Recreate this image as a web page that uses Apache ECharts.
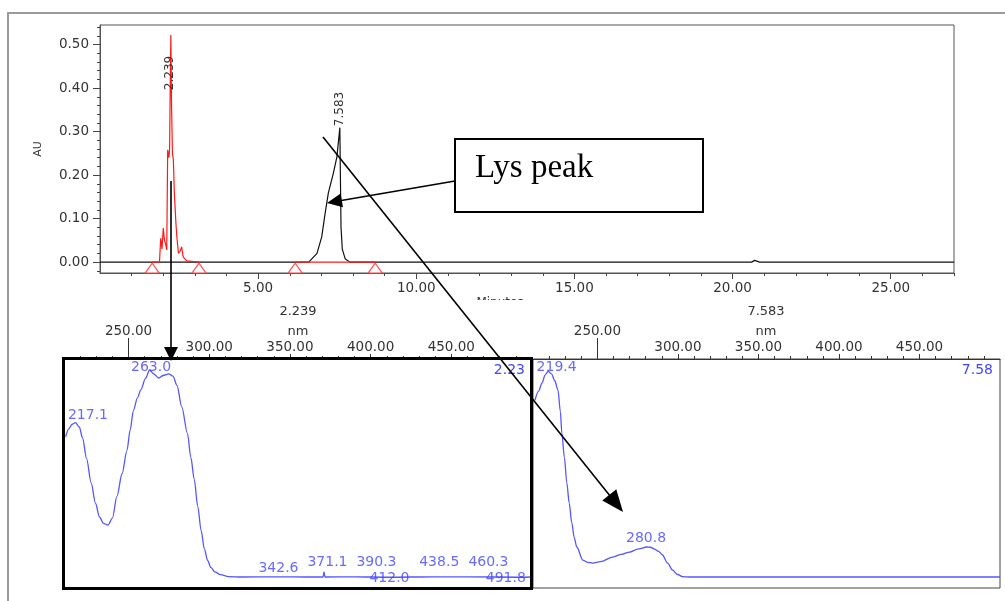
<!DOCTYPE html>
<html><head><meta charset="utf-8">
<script src="https://cdn.jsdelivr.net/npm/echarts@6/dist/echarts.min.js"></script>
<style>html,body{margin:0;padding:0;background:#fff}#c{width:1005px;height:601px}</style>
</head><body><div id="c"></div>
<script>
// ---------- data ----------
const chromXLabels = [5, 10, 15, 20, 25];
const chromYLabels = [0, 0.1, 0.2, 0.3, 0.4, 0.5];
const blackTrace = [[0,0],[6.6,0],[6.86,0.02],[7.01,0.058],[7.12,0.113],[7.22,0.159],[7.38,0.205],[7.49,0.242],[7.583,0.309],[7.6,0.2],[7.62,0.08],[7.66,0.03],[7.75,0.008],[7.9,0],[20.6,0],[20.7,0.004],[20.85,0],[27,0]];
const redTrace = [[1.65,0],[1.88,0],[1.92,0.055],[1.96,0.03],[2.0,0.078],[2.04,0.05],[2.08,0.04],[2.11,0.028],[2.14,0.258],[2.18,0.24],[2.2,0.26],[2.22,0.4],[2.239,0.522],[2.26,0.37],[2.29,0.25],[2.32,0.235],[2.35,0.16],[2.4,0.09],[2.43,0.058],[2.48,0.02],[2.53,0.025],[2.58,0.035],[2.63,0.012],[2.74,0.003],[2.8,0],[3.13,0],[null,null],[6.17,0],[8.70,0]];
const baselineMarks = [1.65, 3.13, 6.17, 8.70];
const peakTimes = ['2.239', '7.583'];
const nmMajor = [300, 350, 400, 450];
const nmRaised = [250];
const spectrum2239 = [[211,0.66],[213,0.695],[215,0.715],[217.1,0.722],[219.5,0.703],[221.5,0.655],[224,0.565],[226.8,0.46],[229.5,0.37],[232,0.31],[234.5,0.282],[237.3,0.275],[240,0.305],[242.8,0.40],[246,0.50],[249,0.60],[251,0.69],[253,0.775],[255.5,0.83],[257.6,0.865],[260.5,0.915],[263,0.952],[265.5,0.935],[268.7,0.917],[271.5,0.928],[275,0.935],[277.5,0.925],[280,0.885],[283,0.79],[286.5,0.675],[288.6,0.57],[290.7,0.475],[292.9,0.355],[295,0.25],[297,0.17],[299,0.12],[301,0.09],[303.5,0.07],[307,0.058],[312,0.05],[320,0.048],[342.6,0.049],[360,0.048],[370.5,0.048],[371.1,0.07],[371.7,0.048],[390.3,0.049],[412,0.047],[438.5,0.049],[460.3,0.049],[491.8,0.047],[500,0.048]];
const spectrum7583 = [[211.2,0.82],[213.5,0.86],[215.6,0.895],[217.5,0.93],[219.4,0.946],[221.5,0.935],[223.5,0.905],[225.5,0.865],[227,0.77],[227.9,0.677],[229.5,0.57],[231,0.459],[232.5,0.37],[234.1,0.284],[235.6,0.22],[237.2,0.179],[240.9,0.122],[244,0.112],[247.1,0.109],[252,0.115],[259.5,0.135],[265,0.147],[270,0.157],[275,0.17],[280.8,0.179],[283,0.178],[285.4,0.17],[288,0.16],[290.4,0.144],[293.5,0.11],[296.6,0.079],[299.5,0.06],[302.8,0.05],[308,0.048],[500,0.048]];
const peaks2239 = [[217.1,0.722],[263.0,0.952],[342.6,0.048],[371.1,0.048],[390.3,0.048],[412.0,0.048],[438.5,0.048],[460.3,0.048],[491.8,0.048]];
const peaks7583 = [[219.4,0.946],[280.8,0.179]];

// ---------- label placement (style) ----------
const offs2239 = [[12.5,-7],[1.5,-3],[0.5,-9],[3.5,-15],[21.5,-15],[-0.5,1],[6.5,-15],[20.5,-15],[-13,1]];
const offs7583 = [[8.5,-4.5],[-1,-9]];

const FONT = 'DejaVu Sans';
const axisTxt = {fontFamily: FONT, fontSize: 13.5, color: '#333'};
const range = (a, b, s) => { const r = []; for (let v = a; v <= b + 1e-9; v += s) r.push(+v.toFixed(4)); return r; };
const chromMinorX = range(1, 27, 1).filter(v => v % 5 !== 0);
const chromMinorY = range(-0.02, 0.54, 0.02).filter(v => Math.abs(Math.round(v*10) - v*10) > 1e-6);
const nmMinor = range(220, 500, 10).filter(v => v % 50 !== 0);

function specAxes(g) {
  return [
    {gridIndex: g, type: 'value', position: 'top', min: 210, max: 500,
     axisLine: {show: true, onZero: false, lineStyle: {color: '#333', width: 1}},
     axisTick: {show: true, customValues: nmMinor, length: 3, lineStyle: {color: '#333'}},
     axisLabel: {show: false}, splitLine: {show: false}},
    {gridIndex: g, type: 'value', position: 'top', min: 210, max: 500,
     axisLine: {show: false, onZero: false},
     axisTick: {show: true, customValues: nmMajor, length: 5, lineStyle: {color: '#333'}},
     axisLabel: Object.assign({show: true, customValues: nmMajor, margin: 5, formatter: v => v.toFixed(2)}, axisTxt),
     splitLine: {show: false}},
    {gridIndex: g, type: 'value', position: 'top', min: 210, max: 500,
     axisLine: {show: false, onZero: false},
     axisTick: {show: true, customValues: nmRaised, length: 21, lineStyle: {color: '#333'}},
     axisLabel: Object.assign({show: true, customValues: nmRaised, margin: 21, formatter: v => v.toFixed(2)}, axisTxt),
     splitLine: {show: false}}
  ];
}

function labelSeries(xi, yi, pts, offs) {
  return {
    type: 'scatter', xAxisIndex: xi, yAxisIndex: yi, symbolSize: 1, z: 5,
    itemStyle: {color: 'transparent'},
    data: pts.map((p, i) => ({value: p, label: {offset: offs[i]}})),
    label: {show: true, position: 'inside', formatter: p => p.value[0].toFixed(1),
      fontFamily: FONT, fontSize: 14, color: '#4444ff'}
  };
}

function arrow(x1, y1, x2, y2, len, hw, lw) {
  const dx = x2 - x1, dy = y2 - y1, L = Math.hypot(dx, dy), ux = dx / L, uy = dy / L;
  const bx = x2 - ux * len, by = y2 - uy * len;
  return [
    {type: 'line', z: 105, shape: {x1, y1, x2: bx + ux * 2, y2: by + uy * 2}, style: {stroke: '#000', lineWidth: lw || 1.6}},
    {type: 'polygon', z: 105, shape: {points: [[x2, y2], [bx - uy * hw, by + ux * hw], [bx + uy * hw, by - ux * hw]]}, style: {fill: '#000'}}
  ];
}

const txt = (s, x, y, opt, extra) => Object.assign({type: 'text', z: 102, x, y,
  style: Object.assign({text: s, fontFamily: FONT, fontSize: 13, fill: '#333', align: 'center', verticalAlign: 'middle'}, opt || {})}, extra || {});

const chart = echarts.init(document.getElementById('c'), null, {renderer: 'canvas'});
chart.setOption({
  animation: false,
  backgroundColor: '#fff',
  grid: [
    {left: 100, top: 25, width: 854, height: 248, show: true, borderColor: '#555', borderWidth: 1, backgroundColor: 'transparent'},
    {left: 64, top: 359, width: 468, height: 229, show: true, borderColor: '#444', borderWidth: 1},
    {left: 533, top: 359, width: 467, height: 229, show: true, borderColor: '#444', borderWidth: 1}
  ],
  xAxis: [
    {gridIndex: 0, type: 'value', position: 'bottom', min: 0, max: 27,
     axisLine: {show: true, onZero: false, lineStyle: {color: '#555'}},
     axisTick: {show: true, customValues: chromXLabels, length: 6, lineStyle: {color: '#444'}},
     axisLabel: Object.assign({show: true, customValues: chromXLabels, margin: 8, formatter: v => v.toFixed(2)}, axisTxt),
     splitLine: {show: false}},
    {gridIndex: 0, type: 'value', position: 'bottom', min: 0, max: 27,
     axisLine: {show: false, onZero: false},
     axisTick: {show: true, customValues: chromMinorX, length: 3, lineStyle: {color: '#444'}},
     axisLabel: {show: false}, splitLine: {show: false}},
    ...specAxes(1),
    ...specAxes(2)
  ],
  yAxis: [
    {gridIndex: 0, type: 'value', position: 'left', min: -0.025, max: 0.545,
     name: 'AU', nameLocation: 'middle', nameGap: 56, nameRotate: 90,
     nameTextStyle: {fontFamily: FONT, fontSize: 11, color: '#333'},
     axisLine: {show: true, onZero: false, lineStyle: {color: '#555'}},
     axisTick: {show: true, customValues: chromYLabels, length: 7, lineStyle: {color: '#444'}},
     axisLabel: Object.assign({show: true, customValues: chromYLabels, margin: 11, formatter: v => v.toFixed(2)}, axisTxt),
     splitLine: {show: false}},
    {gridIndex: 0, type: 'value', position: 'left', min: -0.025, max: 0.545,
     axisLine: {show: false, onZero: false},
     axisTick: {show: true, customValues: chromMinorY, length: 3, lineStyle: {color: '#444'}},
     axisLabel: {show: false}, splitLine: {show: false}},
    {gridIndex: 1, type: 'value', min: 0, max: 1, show: false},
    {gridIndex: 2, type: 'value', min: 0, max: 1, show: false}
  ],
  series: [
    {type: 'line', xAxisIndex: 0, yAxisIndex: 0, data: blackTrace, showSymbol: false, z: 3,
     lineStyle: {color: '#111', width: 1.2}},
    {type: 'line', xAxisIndex: 0, yAxisIndex: 0, data: redTrace, showSymbol: false, connectNulls: false, z: 4,
     lineStyle: {color: '#ff1a1a', width: 1.2}},
    {type: 'scatter', xAxisIndex: 0, yAxisIndex: 0, data: baselineMarks.map(t => [t, 0]), z: 5,
     symbol: 'triangle', symbolSize: [14, 10], symbolOffset: [0, 6],
     itemStyle: {color: '#fff', borderColor: '#ff3030', borderWidth: 1.3}},
    {type: 'line', xAxisIndex: 2, yAxisIndex: 2, data: spectrum2239, showSymbol: false, smooth: 0.3, smoothMonotone: 'x',
     lineStyle: {color: '#5555ff', width: 1.3}},
    {type: 'line', xAxisIndex: 5, yAxisIndex: 3, data: spectrum7583, showSymbol: false, smooth: 0.3, smoothMonotone: 'x',
     lineStyle: {color: '#5555ff', width: 1.3}},
    labelSeries(2, 2, peaks2239, offs2239),
    labelSeries(5, 3, peaks7583, offs7583)
  ],
  graphic: [
    {type: 'polyline', z: 100, shape: {points: [[8, 601], [8, 13], [1005, 13]]}, style: {stroke: '#9a9a9a', lineWidth: 2, fill: null}},
    txt(peakTimes[0], 170, 73, {fontSize: 12}, {rotation: Math.PI / 2}),
    txt(peakTimes[1], 340, 109, {fontSize: 12}, {rotation: Math.PI / 2}),
    txt('Minutes', 500, 303, {fontSize: 12}),
    {type: 'rect', z: 103, shape: {x: 466, y: 300, width: 80, height: 9}, style: {fill: '#fff'}},
    txt('2.239', 298, 312), txt('nm', 298, 332),
    txt('7.583', 766, 312), txt('nm', 766, 332),
    txt('2.23', 525, 370, {align: 'right', fontSize: 14, fill: '#4444ff'}),
    txt('7.58', 993, 370, {align: 'right', fontSize: 14, fill: '#4444ff'}),
    {type: 'rect', z: 104, shape: {x: 63.5, y: 358.5, width: 468, height: 230}, style: {fill: null, stroke: '#000', lineWidth: 3}},
    {type: 'rect', z: 101, shape: {x: 455, y: 139, width: 248, height: 73}, style: {fill: '#fff', stroke: '#000', lineWidth: 2}},
    {type: 'text', z: 102, x: 475, y: 168, style: {text: 'Lys peak', fontFamily: 'Liberation Serif', fontSize: 33, fill: '#000', align: 'left', verticalAlign: 'middle'}},
    ...arrow(171, 181, 171, 361, 14, 7),
    ...arrow(455, 181, 327, 203, 15, 7),
    ...arrow(323, 137, 623, 512, 22, 9)
  ]
});
</script>
</body></html>
